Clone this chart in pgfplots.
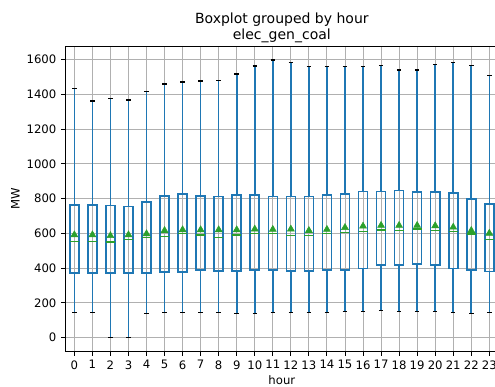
\documentclass[border=0pt]{standalone}
\usepackage{fontspec}
\setmainfont{DejaVu Sans}
\usepackage{pgfplots}
\usepackage{pgfplotstable}
\pgfplotsset{compat=1.18}
\usepgfplotslibrary{statistics}

\definecolor{mplblue}{HTML}{1F77B4}
\definecolor{mplgreen}{HTML}{2CA02C}
\definecolor{mplgrid}{HTML}{B0B0B0}

% mean of each hourly group
\pgfplotstableread{
hour mean
0  591
1  591
2  586
3  591
4  597
5  616
6  620
7  620
8  620
9  620
10 624
11 622
12 624
13 616
14 622
15 633
16 641
17 645
18 645
19 645
20 643
21 635
22 616
23 600
}\meantable

\pgfplotsset{
  % position, lower whisker, lower quartile, median, upper quartile, upper whisker
  hbox/.style n args={6}{
    draw=mplblue, line width=1.2pt, solid,
    boxplot prepared={
      draw position=#1,
      lower whisker=#2, lower quartile=#3, median=#4,
      upper quartile=#5, upper whisker=#6,
    },
  },
  boxplot/draw direction=y,
  boxplot/box extend=0.5,
  boxplot/whisker extend=0.25,
  boxplot/every median/.style={draw=mplgreen, line width=1.1pt},
  boxplot/draw/lower whisker/.code={
    \draw[mplblue, line width=1.2pt]
      (boxplot box cs:\pgfplotsboxplotvalue{lower whisker},0.5) --
      (boxplot box cs:\pgfplotsboxplotvalue{lower quartile},0.5);
    \draw[black, line width=1pt]
      (boxplot whisker cs:\pgfplotsboxplotvalue{lower whisker},0) --
      (boxplot whisker cs:\pgfplotsboxplotvalue{lower whisker},1);
  },
  boxplot/draw/upper whisker/.code={
    \draw[mplblue, line width=1.2pt]
      (boxplot box cs:\pgfplotsboxplotvalue{upper quartile},0.5) --
      (boxplot box cs:\pgfplotsboxplotvalue{upper whisker},0.5);
    \draw[black, line width=1pt]
      (boxplot whisker cs:\pgfplotsboxplotvalue{upper whisker},0) --
      (boxplot whisker cs:\pgfplotsboxplotvalue{upper whisker},1);
  },
}

\begin{document}
\begin{tikzpicture}
\useasboundingbox (-49pt,-26.6pt) rectangle (322.3pt,263.6pt);
\begin{axis}[
  at={(0,0)}, anchor=south west,
  width=324.8pt, height=229.1pt, scale only axis,
  boxplot/draw direction=y,
  xmin=-0.5, xmax=23.5, ymin=-80, ymax=1678,
  xtick={0,...,23}, ytick={0,200,...,1600},
  grid=major, grid style={mplgrid, line width=0.7pt},
  tick align=outside, xtick pos=bottom, ytick pos=left,
  major tick length=3.2pt,
  tick style={black, line width=0.7pt},
  axis line style={black, line width=0.7pt},
  ticklabel style={font=\fontsize{8.75}{10}\selectfont},
  /pgf/number format/assume math mode=true,
  /pgf/number format/1000 sep={},
  xlabel={hour}, ylabel={MW},
  label style={font=\fontsize{8.75}{10}\selectfont},
  xlabel style={at={(axis description cs:0.5,-0.0934)}, anchor=center},
  ylabel style={at={(axis description cs:-0.1155,0.5)}, anchor=center},
  title={Boxplot grouped by hour\\elec\_gen\_coal},
  title style={font=\fontsize{10.5}{12}\selectfont, align=center,
    at={(axis description cs:0.5,1)}, anchor=south, inner sep=0pt, yshift=-3.5pt},
]
\addplot[hbox={0}{144}{372}{552}{764}{1435}] coordinates {};
\addplot[hbox={1}{144}{372}{553}{764}{1362}] coordinates {};
\addplot[hbox={2}{0}{372}{549}{760}{1374}] coordinates {};
\addplot[hbox={3}{0}{372}{564}{754}{1368}] coordinates {};
\addplot[hbox={4}{138}{372}{577}{781}{1416}] coordinates {};
\addplot[hbox={5}{144}{378}{583}{815}{1460}] coordinates {};
\addplot[hbox={6}{144}{378}{600}{825}{1470}] coordinates {};
\addplot[hbox={7}{144}{390}{591}{815}{1476}] coordinates {};
\addplot[hbox={8}{144}{384}{577}{811}{1481}] coordinates {};
\addplot[hbox={9}{138}{384}{591}{821}{1516}] coordinates {};
\addplot[hbox={10}{138}{390}{600}{821}{1562}] coordinates {};
\addplot[hbox={11}{144}{390}{600}{811}{1598}] coordinates {};
\addplot[hbox={12}{144}{384}{587}{811}{1583}] coordinates {};
\addplot[hbox={13}{144}{384}{587}{811}{1560}] coordinates {};
\addplot[hbox={14}{144}{390}{600}{821}{1560}] coordinates {};
\addplot[hbox={15}{150}{390}{604}{825}{1560}] coordinates {};
\addplot[hbox={16}{150}{397}{610}{840}{1560}] coordinates {};
\addplot[hbox={17}{155}{418}{620}{840}{1565}] coordinates {};
\addplot[hbox={18}{150}{418}{616}{846}{1539}] coordinates {};
\addplot[hbox={19}{150}{422}{624}{836}{1539}] coordinates {};
\addplot[hbox={20}{150}{418}{616}{836}{1573}] coordinates {};
\addplot[hbox={21}{144}{397}{610}{831}{1583}] coordinates {};
\addplot[hbox={22}{138}{390}{597}{798}{1565}] coordinates {};
\addplot[hbox={23}{144}{380}{564}{770}{1510}] coordinates {};
\addplot[only marks, mark=triangle*, mark size=3pt,
  mark options={fill=mplgreen, draw=mplgreen, line width=0.4pt, solid}]
  table[x=hour, y=mean] {\meantable};
\end{axis}
\end{tikzpicture}
\end{document}
